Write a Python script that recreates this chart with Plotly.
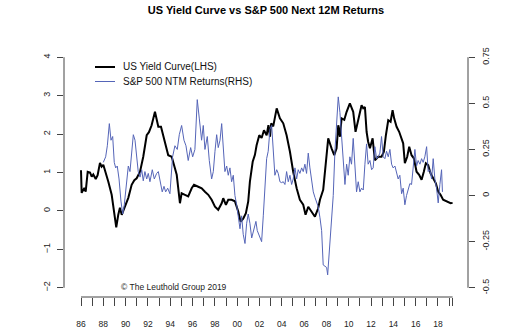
import plotly.graph_objects as go

# ---- data ----
yc_years = [1986.00, 1986.06, 1986.30, 1986.42, 1986.60, 1986.81, 1986.96, 1987.10, 1987.32, 1987.49,
            1987.70, 1987.85, 1988.00, 1988.21, 1988.45, 1988.75, 1988.98, 1989.16, 1989.34, 1989.49,
            1989.65, 1989.88, 1990.24, 1990.54, 1990.78, 1990.99, 1991.29, 1991.58, 1991.89, 1992.09,
            1992.33, 1992.63, 1992.78, 1992.93, 1993.17, 1993.37, 1993.59, 1993.82, 1994.13, 1994.36,
            1994.58, 1994.87, 1995.02, 1995.32, 1995.61, 1995.92, 1996.13, 1996.51, 1996.82, 1997.11,
            1997.41, 1997.71, 1998.01, 1998.30, 1998.61, 1998.75, 1998.99, 1999.20, 1999.50, 1999.80,
            2000.10, 2000.31, 2000.54, 2000.78, 2000.99, 2001.14, 2001.39, 2001.59, 2001.74, 2001.98,
            2002.19, 2002.40, 2002.64, 2002.80, 2002.94, 2003.05, 2003.23, 2003.54, 2003.83, 2004.13,
            2004.43, 2004.73, 2005.02, 2005.33, 2005.62, 2005.92, 2006.13, 2006.37, 2006.67, 2006.97,
            2007.26, 2007.42, 2007.71, 2007.95, 2008.16, 2008.46, 2008.70, 2008.91, 2009.06, 2009.21,
            2009.36, 2009.60, 2009.81, 2010.10, 2010.40, 2010.61, 2010.85, 2011.15, 2011.30, 2011.45,
            2011.60, 2011.74, 2011.90, 2012.14, 2012.34, 2012.64, 2012.94, 2013.15, 2013.33, 2013.54,
            2013.75, 2013.93, 2014.07, 2014.29, 2014.52, 2014.74, 2014.88, 2015.03, 2015.24, 2015.42,
            2015.63, 2015.84, 2016.08, 2016.31, 2016.53, 2016.73, 2016.91, 2017.12, 2017.33, 2017.57,
            2017.81, 2018.02, 2018.23, 2018.46, 2018.71, 2018.91, 2019.13, 2019.31]
yc_values = [1.06, 0.47, 0.60, 0.50, 1.02, 1.00, 0.89, 0.95, 0.83, 0.93,
             1.25, 1.15, 1.20, 1.00, 0.76, 0.42, -0.02, -0.43, -0.10, 0.08,
             -0.10, 0.08, 0.34, 0.68, 0.80, 0.85, 1.02, 1.41, 1.97, 2.05,
             2.23, 2.58, 2.38, 2.19, 2.19, 1.97, 1.71, 1.45, 1.41, 1.19,
             0.94, 0.20, 0.46, 0.42, 0.38, 0.59, 0.68, 0.63, 0.59, 0.50,
             0.42, 0.29, 0.11, 0.03, 0.20, 0.33, 0.16, 0.29, 0.29, 0.25,
             -0.02, -0.28, -0.20, -0.06, 0.25, 0.76, 1.28, 1.46, 1.71, 1.97,
             1.90, 2.10, 1.97, 2.23, 1.93, 2.28, 2.20, 2.67, 2.41, 2.28,
             1.97, 1.54, 1.02, 0.59, 0.29, 0.16, -0.10, 0.11, -0.02, -0.15,
             0.07, 0.29, 0.55, 1.19, 1.89, 1.63, 1.45, 1.63, 2.23, 1.93,
             2.41, 2.37, 2.58, 2.80, 2.58, 2.06, 2.41, 2.75, 2.67, 2.70,
             2.06, 1.80, 1.63, 1.89, 1.32, 1.41, 1.41, 1.54, 1.97, 2.36,
             2.32, 2.62, 2.41, 2.19, 2.06, 1.84, 1.76, 1.24, 1.41, 1.67,
             1.45, 1.37, 1.02, 0.94, 0.81, 1.02, 1.24, 1.19, 0.98, 0.85,
             0.72, 0.50, 0.42, 0.29, 0.25, 0.23, 0.20, 0.21]

spx_years = [1988.00, 1988.21, 1988.36, 1988.54, 1988.69, 1988.84, 1988.98, 1989.11, 1989.25, 1989.41,
             1989.58, 1989.74, 1989.88, 1990.09, 1990.24, 1990.39, 1990.54, 1990.69, 1990.84, 1990.99,
             1991.13, 1991.29, 1991.44, 1991.58, 1991.73, 1991.89, 1992.03, 1992.18, 1992.39, 1992.57,
             1992.78, 1992.93, 1993.14, 1993.28, 1993.44, 1993.59, 1993.77, 1993.97, 1994.21, 1994.42,
             1994.63, 1994.81, 1995.02, 1995.23, 1995.41, 1995.61, 1995.83, 1996.01, 1996.21, 1996.42,
             1996.60, 1996.81, 1996.96, 1997.11, 1997.32, 1997.50, 1997.71, 1997.86, 1998.01, 1998.16,
             1998.30, 1998.46, 1998.61, 1998.75, 1998.90, 1999.06, 1999.20, 1999.35, 1999.50, 1999.65,
             1999.80, 1999.95, 2000.10, 2000.25, 2000.40, 2000.54, 2000.70, 2000.85, 2000.99, 2001.14,
             2001.30, 2001.50, 2001.68, 2001.80, 2001.98, 2002.19, 2002.34, 2002.49, 2002.64, 2002.78,
             2002.94, 2003.09, 2003.23, 2003.38, 2003.54, 2003.68, 2003.83, 2003.98, 2004.13, 2004.28,
             2004.43, 2004.58, 2004.73, 2004.88, 2005.02, 2005.18, 2005.33, 2005.47, 2005.62, 2005.78,
             2005.92, 2006.07, 2006.22, 2006.37, 2006.52, 2006.67, 2006.82, 2006.97, 2007.12, 2007.26,
             2007.42, 2007.57, 2007.71, 2007.86, 2008.02, 2008.11, 2008.22, 2008.37, 2008.46, 2008.61,
             2008.76, 2008.91, 2009.06, 2009.21, 2009.36, 2009.50, 2009.66, 2009.81, 2009.95, 2010.10,
             2010.25, 2010.40, 2010.55, 2010.70, 2010.85, 2011.00, 2011.15, 2011.30, 2011.45, 2011.60,
             2011.74, 2011.90, 2012.05, 2012.19, 2012.34, 2012.50, 2012.64, 2012.79, 2012.94, 2013.09,
             2013.24, 2013.39, 2013.54, 2013.69, 2013.84, 2013.98, 2014.14, 2014.29, 2014.43, 2014.58,
             2014.74, 2014.88, 2015.03, 2015.18, 2015.33, 2015.48, 2015.63, 2015.78, 2015.93, 2016.08,
             2016.22, 2016.38, 2016.53, 2016.67, 2016.82, 2016.98, 2017.12, 2017.27, 2017.43, 2017.57,
             2017.72, 2017.87, 2018.02, 2018.17, 2018.32, 2018.40]
spx_values = [0.18, 0.21, 0.27, 0.39, 0.30, 0.32, 0.18, 0.15, 0.16, 0.09,
              -0.03, -0.10, -0.05, 0.09, 0.16, 0.13, 0.25, 0.33, 0.30, 0.20,
              0.13, 0.10, 0.14, 0.08, 0.13, 0.09, 0.12, 0.075, 0.14, 0.09,
              0.12, 0.13, 0.06, 0.02, 0.05, 0.02, 0.04, 0.01, 0.21, 0.27,
              0.25, 0.33, 0.38, 0.30, 0.27, 0.19, 0.26, 0.21, 0.25, 0.52,
              0.42, 0.30, 0.38, 0.25, 0.32, 0.19, 0.09, 0.13, 0.24, 0.33,
              0.26, 0.30, 0.39, 0.26, 0.13, 0.16, 0.11, 0.15, 0.075, 0.11,
              0.00, -0.05, -0.12, -0.18, -0.11, -0.21, -0.26, -0.15, -0.10, -0.15,
              -0.23, -0.18, -0.14, -0.19, -0.22, -0.25, -0.11, 0.02, 0.20, 0.24,
              0.36, 0.38, 0.24, 0.11, 0.14, 0.12, 0.075, 0.07, 0.075, 0.06,
              0.13, 0.075, 0.11, 0.06, 0.09, 0.15, 0.09, 0.14, 0.12, 0.15,
              0.13, 0.17, 0.12, 0.23, 0.15, 0.075, 0.02, -0.01, -0.04, -0.06,
              -0.12, -0.19, -0.376, -0.385, -0.39, -0.43, -0.34, -0.23, -0.16, 0.00,
              0.24, 0.38, 0.535, 0.45, 0.33, 0.21, 0.06, 0.17, 0.11, 0.21,
              0.17, 0.31, 0.17, 0.02, 0.075, 0.02, 0.04, 0.03, 0.17, 0.28,
              0.17, 0.19, 0.14, 0.15, 0.265, 0.20, 0.21, 0.23, 0.32, 0.21,
              0.20, 0.24, 0.21, 0.25, 0.17, 0.15, 0.16, 0.13, 0.09, 0.11,
              0.01, 0.04, -0.05, 0.00, 0.04, 0.065, 0.06, 0.15, 0.25, 0.16,
              0.19, 0.17, 0.20, 0.18, 0.21, 0.265, 0.13, 0.14, 0.09, 0.20,
              0.09, 0.04, -0.04, 0.06, 0.14, 0.02]

left_ticks = [-2, -1, 0, 1, 2, 3, 4]
right_ticks = [-0.5, -0.25, 0, 0.25, 0.5, 0.75]
right_tick_text = ["-0.5", "-0.25", "0", "0.25", "0.5", "0.75"]
year_ticks = list(range(1986, 2020))
year_labels = [f"{y % 100:02d}" if y % 2 == 0 and y <= 2018 else "" for y in year_ticks]

title = "US Yield Curve vs S&P 500 Next 12M Returns"
legend_names = ["US Yield Curve(LHS)", "S&P 500 NTM Returns(RHS)"]
credit = "© The Leuthold Group 2019"

FONT = "Liberation Sans, Arial, sans-serif"
BLUE = "#5565b8"
AX = "#444444"

fig = go.Figure()
fig.add_trace(go.Scatter(x=spx_years, y=spx_values, mode="lines", yaxis="y2",
                         line=dict(color=BLUE, width=1), name=legend_names[1], showlegend=False))
fig.add_trace(go.Scatter(x=yc_years, y=yc_values, mode="lines",
                         line=dict(color="black", width=2), name=legend_names[0], showlegend=False))

x_end = yc_years[-1]
fig.update_layout(
    width=512, height=332,
    margin=dict(l=64, r=44, t=48, b=35),
    paper_bgcolor="white", plot_bgcolor="white",
    font=dict(family=FONT, color="#222"),
    title=dict(text="<b>" + title + "</b>", x=0.5, xref="paper", y=1 - 10.5 / 332, yref="container",
               xanchor="center", yanchor="middle", font=dict(size=11, color="black", family=FONT)),
    xaxis=dict(range=[1984.476, 2020.69], showgrid=False, zeroline=False, showline=False,
               automargin=False,
               tickmode="array", tickvals=year_ticks + [x_end], ticktext=year_labels + [""],
               ticks="outside", ticklen=8, tickcolor=AX, tickwidth=1,
               tickfont=dict(size=8.5), ticklabelstandoff=11),
    yaxis=dict(range=[-2.24, 4.24], showgrid=False, zeroline=False, showline=False,
               automargin=False,
               tickmode="array", tickvals=left_ticks, ticks="outside", ticklen=6,
               tickcolor=AX, tickangle=-90, tickfont=dict(size=9), ticklabelstandoff=3),
    yaxis2=dict(range=[-0.55, 0.80], overlaying="y", side="right", showgrid=False,
                automargin=False,
                zeroline=False, showline=False, tickmode="array", tickvals=right_ticks,
                ticktext=right_tick_text, ticks="outside", ticklen=6, tickcolor=AX,
                tickangle=-90, tickfont=dict(size=9), ticklabelstandoff=3),
    showlegend=False,
)

# axis lines (R style: only spanning the tick range)
fig.add_shape(type="line", xref="paper", yref="y", x0=0, x1=0, y0=left_ticks[0], y1=left_ticks[-1],
              line=dict(color=AX, width=1))
fig.add_shape(type="line", xref="paper", yref="y2", x0=1, x1=1, y0=right_ticks[0], y1=right_ticks[-1],
              line=dict(color=AX, width=1))
fig.add_shape(type="line", xref="x", yref="paper", x0=year_ticks[0], x1=x_end, y0=0, y1=0,
              line=dict(color=AX, width=1))

# legend
pw, ph = 404.0, 249.0
def px(x):
    return (x - 64) / pw
def py(y):
    return (297 - y) / ph

for i, (name, col, w) in enumerate(zip(legend_names, ["black", BLUE], [2, 1])):
    yy = 67 + i * 14.5
    fig.add_shape(type="line", xref="paper", yref="paper", x0=px(95), x1=px(115), y0=py(yy), y1=py(yy),
                  line=dict(color=col, width=w))
    fig.add_annotation(xref="paper", yref="paper", x=px(121), y=py(yy), text=name, showarrow=False,
                       xanchor="left", yanchor="middle", font=dict(size=10, color="#111"))

fig.add_annotation(xref="paper", yref="paper", x=px(119), y=py(287), text=credit, showarrow=False,
                   xanchor="left", yanchor="middle", font=dict(size=8.5, color="#222"))

fig.write_html("out.html")
